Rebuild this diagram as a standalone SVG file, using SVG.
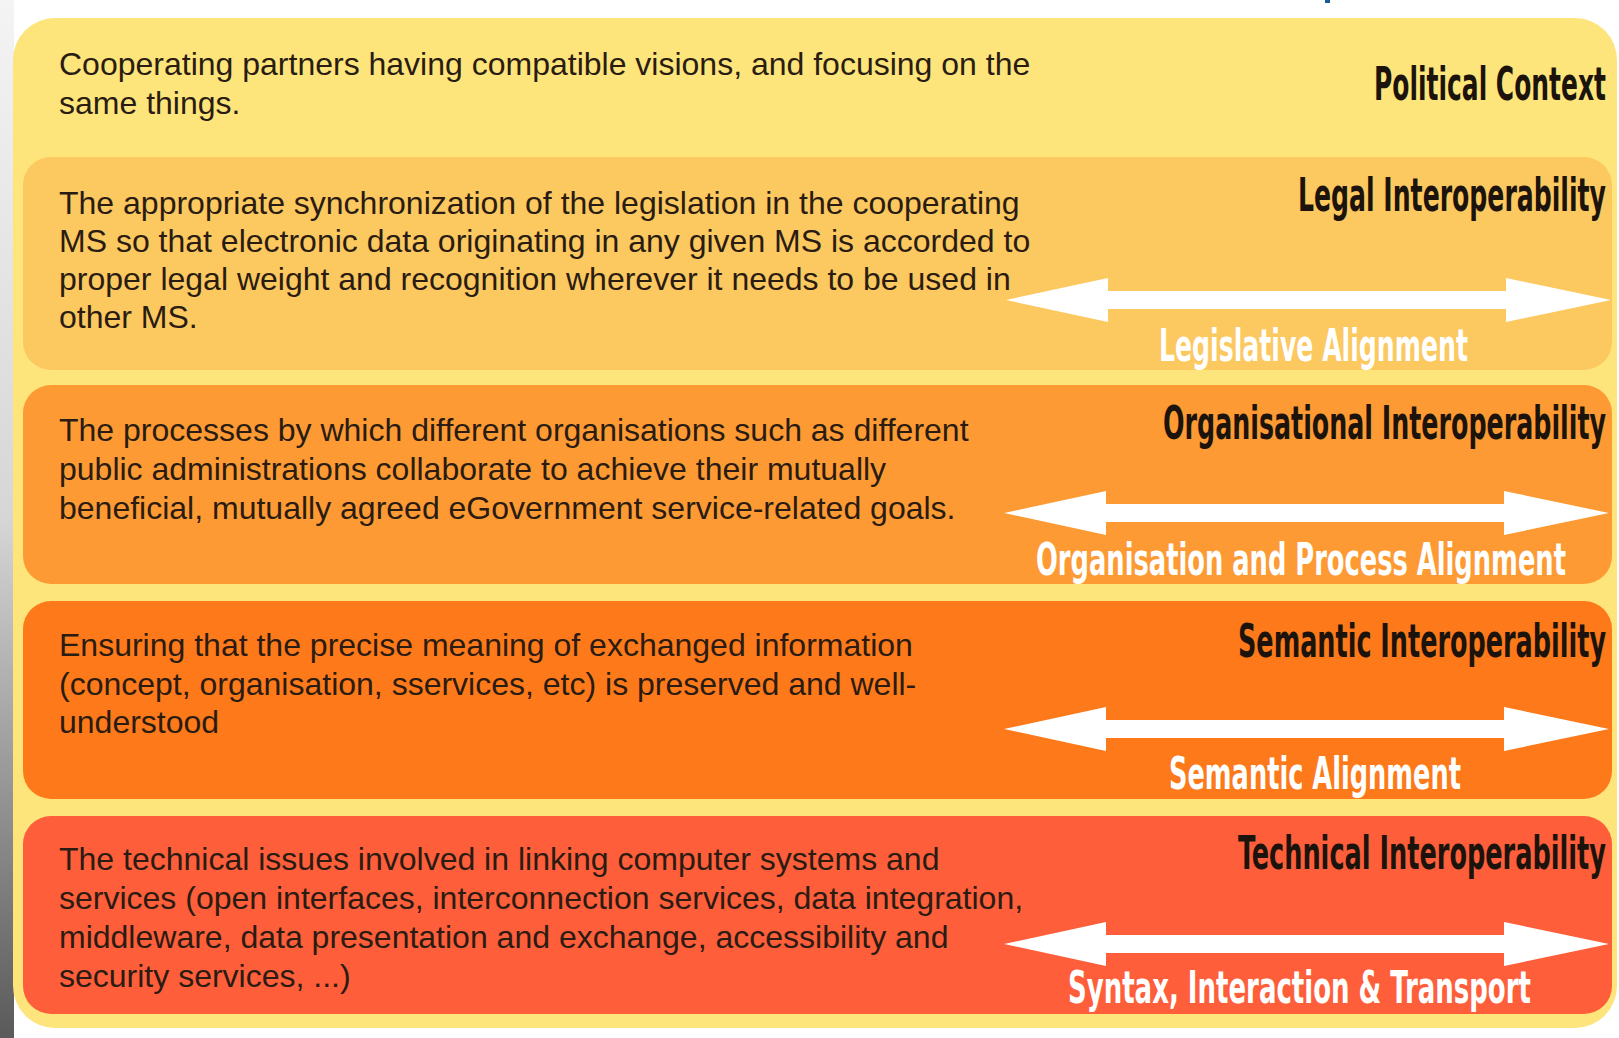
<svg xmlns="http://www.w3.org/2000/svg" width="1619" height="1038" viewBox="0 0 1619 1038">
  <defs>
    <linearGradient id="edgeStrip" x1="0" y1="0" x2="0" y2="1">
      <stop offset="0" stop-color="#f4f4f4"/>
      <stop offset="0.5" stop-color="#d6d6d6"/>
      <stop offset="1" stop-color="#5a5a5a"/>
    </linearGradient>
    <!-- double-headed alignment arrow, tip-to-tip 605px, drawn from its left tip -->
    <polygon id="dblArrow" points="0,0 102,-22 102,-9 500,-9 500,-22 605,0 500,22 500,9 102,9 102,22"/>
  </defs>
  <style>
    .body { font-family: "Liberation Sans", Arial, Helvetica, sans-serif; font-size: 32px; fill: #2a1c12; }
    /* tall condensed lettering: small size stretched vertically */
    .head { font-family: "Liberation Sans Narrow", "DejaVu Sans Condensed", "Liberation Sans", sans-serif; font-weight: bold; font-size: 28px; fill: #1c140c; }
    .align { font-family: "Liberation Sans Narrow", "DejaVu Sans Condensed", "Liberation Sans", sans-serif; font-weight: bold; font-size: 28px; fill: #ffffff; }
    .arrow { fill: #ffffff; }
  </style>

  <!-- page background and left edge -->
  <rect x="0" y="0" width="1619" height="1038" fill="#ffffff"/>
  <rect x="0" y="0" width="14" height="1038" fill="url(#edgeStrip)"/>
  <rect x="1325" y="0" width="5" height="3" fill="#1b5a96"/>

  <!-- political context: outer panel -->
  <g id="political-context">
    <rect x="13" y="18" width="1604" height="1010" rx="42" ry="42" fill="#fde57b"/>
    <text class="body" x="59" y="75">Cooperating partners having compatible visions, and focusing on the</text>
    <text class="body" x="59" y="114">same things.</text>
    <text class="head" transform="translate(1374,100) scale(1,1.64)" x="0" y="0" textLength="232" lengthAdjust="spacingAndGlyphs">Political Context</text>
  </g>

  <!-- legal interoperability -->
  <g id="legal-interoperability">
    <rect x="23" y="157" width="1589" height="213" rx="28" ry="28" fill="#fcc860"/>
    <text class="body" x="59" y="214">The appropriate synchronization of the legislation in the cooperating</text>
    <text class="body" x="59" y="252">MS so that electronic data originating in any given MS is accorded to</text>
    <text class="body" x="59" y="290">proper legal weight and recognition wherever it needs to be used in</text>
    <text class="body" x="59" y="328">other MS.</text>
    <text class="head" transform="translate(1298,211) scale(1,1.64)" x="0" y="0" textLength="308" lengthAdjust="spacingAndGlyphs">Legal Interoperability</text>
  </g>

  <!-- organisational interoperability -->
  <g id="organisational-interoperability">
    <rect x="23" y="385" width="1589" height="199" rx="28" ry="28" fill="#fd9a33"/>
    <text class="body" x="59" y="441">The processes by which different organisations such as different</text>
    <text class="body" x="59" y="480">public administrations collaborate to achieve their mutually</text>
    <text class="body" x="59" y="519">beneficial, mutually agreed eGovernment service-related goals.</text>
    <text class="head" transform="translate(1163,439) scale(1,1.64)" x="0" y="0" textLength="443" lengthAdjust="spacingAndGlyphs">Organisational Interoperability</text>
  </g>

  <!-- semantic interoperability -->
  <g id="semantic-interoperability">
    <rect x="23" y="601" width="1589" height="198" rx="28" ry="28" fill="#fd791a"/>
    <text class="body" x="59" y="656">Ensuring that the precise meaning of exchanged information</text>
    <text class="body" x="59" y="695">(concept, organisation, sservices, etc) is preserved and well-</text>
    <text class="body" x="59" y="733">understood</text>
    <text class="head" transform="translate(1238,657) scale(1,1.64)" x="0" y="0" textLength="368" lengthAdjust="spacingAndGlyphs">Semantic Interoperability</text>
  </g>

  <!-- technical interoperability -->
  <g id="technical-interoperability">
    <rect x="23" y="816" width="1589" height="198" rx="28" ry="28" fill="#fe5e3a"/>
    <text class="body" x="59" y="870">The technical issues involved in linking computer systems and</text>
    <text class="body" x="59" y="909">services (open interfaces, interconnection services, data integration,</text>
    <text class="body" x="59" y="948">middleware, data presentation and exchange, accessibility and</text>
    <text class="body" x="59" y="987">security services, ...)</text>
    <text class="head" transform="translate(1238,869) scale(1,1.64)" x="0" y="0" textLength="368" lengthAdjust="spacingAndGlyphs">Technical Interoperability</text>
  </g>

  <!-- alignment arrows between partners -->
  <g id="alignment-arrows">
    <use href="#dblArrow" class="arrow" transform="translate(1006,300)"/>
    <use href="#dblArrow" class="arrow" transform="translate(1004,513)"/>
    <use href="#dblArrow" class="arrow" transform="translate(1004,729)"/>
    <use href="#dblArrow" class="arrow" transform="translate(1004,944)"/>
  </g>

  <!-- alignment labels -->
  <g id="alignment-labels">
    <text class="align" transform="translate(1159,361) scale(1,1.57)" x="0" y="0" textLength="309" lengthAdjust="spacingAndGlyphs">Legislative Alignment</text>
    <text class="align" transform="translate(1036,575) scale(1,1.57)" x="0" y="0" textLength="530" lengthAdjust="spacingAndGlyphs">Organisation and Process Alignment</text>
    <text class="align" transform="translate(1169,789) scale(1,1.57)" x="0" y="0" textLength="292" lengthAdjust="spacingAndGlyphs">Semantic Alignment</text>
    <text class="align" transform="translate(1068,1003) scale(1,1.57)" x="0" y="0" textLength="463" lengthAdjust="spacingAndGlyphs">Syntax, Interaction &amp; Transport</text>
  </g>
</svg>
